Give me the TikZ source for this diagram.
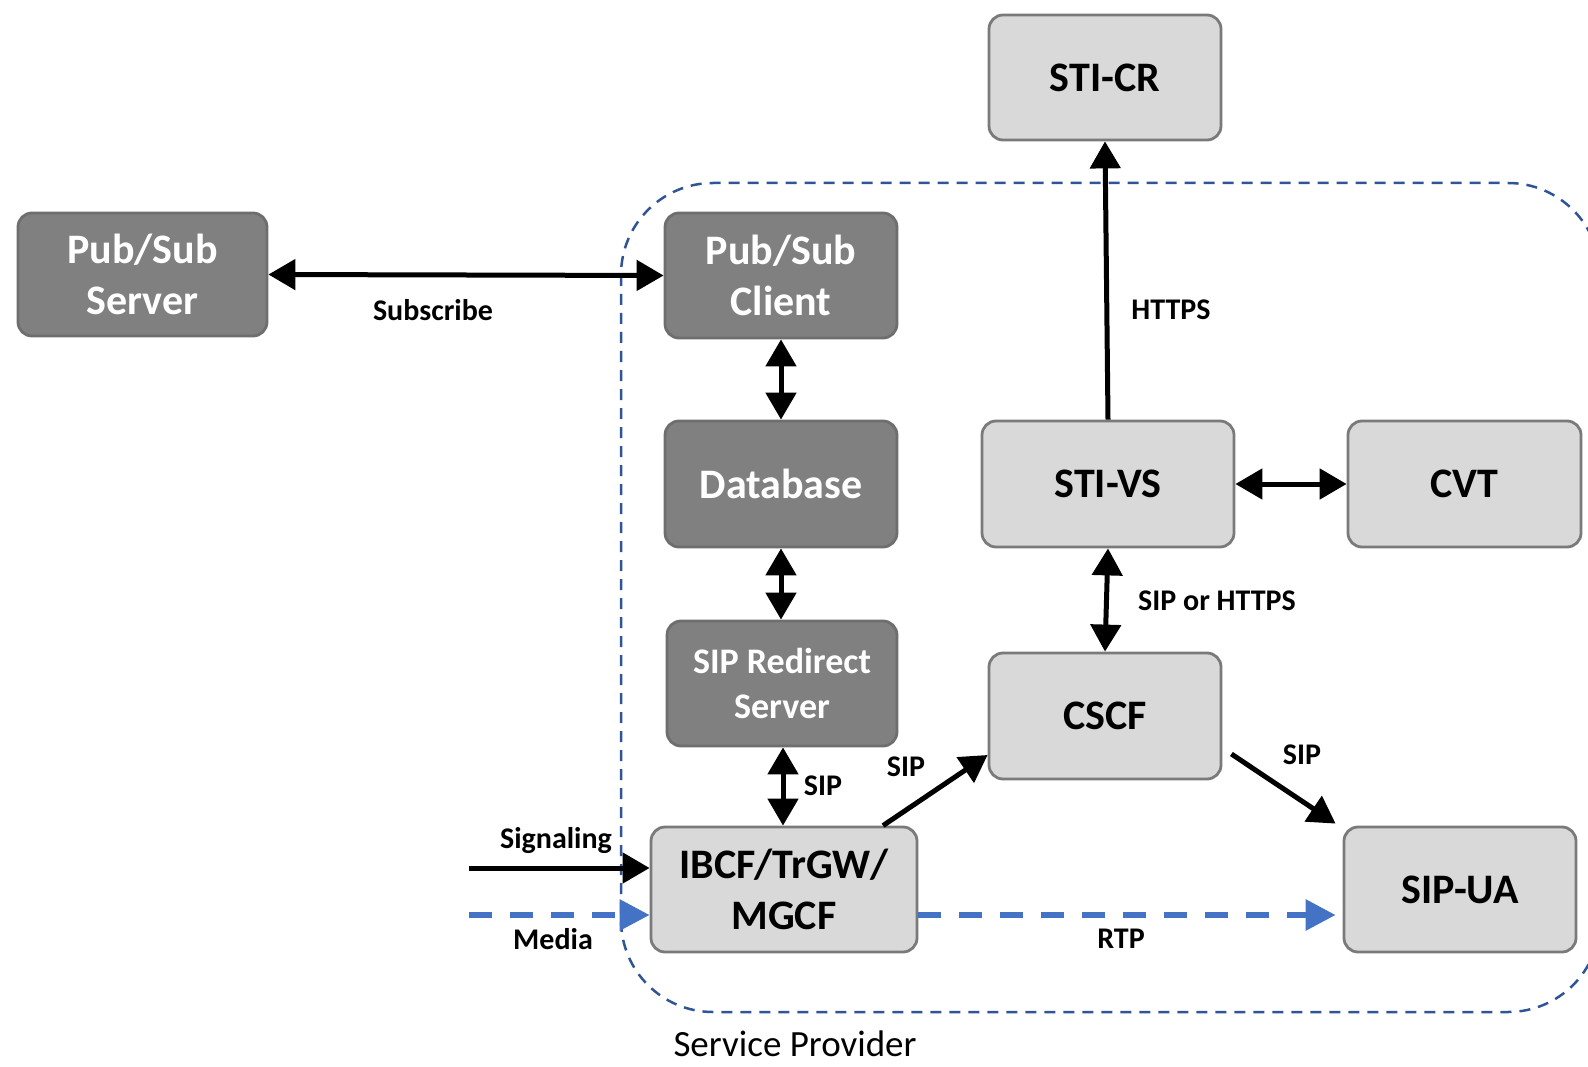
\documentclass[tikz,border=0pt]{standalone}
\usepackage{fontspec}
\setmainfont{Carlito}
\usetikzlibrary{arrows.meta,calc}

\definecolor{darkfill}{HTML}{808080}
\definecolor{darkline}{HTML}{6E6E6E}
\definecolor{lightfill}{HTML}{D9D9D9}
\definecolor{lightline}{HTML}{7A7A7A}
\definecolor{spblue}{HTML}{2F5597}
\definecolor{mediablue}{HTML}{4472C4}

\tikzset{
  box/.style={rounded corners=14pt, line width=2.8pt, align=center,
    inner sep=0pt, font=\bfseries\fontsize{42}{51}\selectfont},
  darkbox/.style={box, fill=darkfill, draw=darkline, text=white},
  lightbox/.style={box, fill=lightfill, draw=lightline, text=black},
  sig/.style={line width=5pt, draw=black,
    -{Triangle[length=27pt,width=30pt]}},
  sigboth/.style={line width=5pt, draw=black,
    {Triangle[length=27pt,width=30pt]}-{Triangle[length=27pt,width=30pt]}},
  media/.style={line width=6pt, draw=mediablue, dash pattern=on 23pt off 18pt,
    -{Triangle[length=30pt,width=30pt,fill=mediablue]}},
  lbl/.style={font=\bfseries\fontsize{30}{36}\selectfont, inner sep=0pt},
  border/.style={draw=spblue, line width=2.5pt, dash pattern=on 11pt off 8pt,
    rounded corners=92pt}
}

\begin{document}
\begin{tikzpicture}[x=1pt,y=-1pt]
\useasboundingbox (0,0) rectangle (1588,1067);

% service provider domain
\begin{scope}
  \clip (0,0) rectangle (1588,1067);
  \draw[border] (621,183) rectangle (1600,1012);
\end{scope}
\node[font=\fontsize{37}{44}\selectfont, inner sep=0pt] (sp) at (795,1044) {Service Provider};

% nodes
\node[darkbox, minimum width=249pt, minimum height=123pt] (pss) at (142.5,274.5) {Pub/Sub\\Server};
\node[darkbox, minimum width=232pt, minimum height=125pt] (psc) at (781,275.5) {Pub/Sub\\Client};
\node[darkbox, minimum width=232pt, minimum height=126pt] (db) at (781,484) {Database};
\node[darkbox, minimum width=230pt, minimum height=125pt,
  font=\bfseries\fontsize{36}{45}\selectfont] (sipr) at (782,683.5) {SIP Redirect\\Server};
\node[lightbox, minimum width=266pt, minimum height=125pt] (ibcf) at (784,889.5) {IBCF/TrGW/\\MGCF};
\node[lightbox, minimum width=232pt, minimum height=125pt] (sticr) at (1105,77.5) {STI-CR};
\node[lightbox, minimum width=252pt, minimum height=126pt] (stivs) at (1108,484) {STI-VS};
\node[lightbox, minimum width=233pt, minimum height=126pt] (cvt) at (1464.5,484) {CVT};
\node[lightbox, minimum width=232pt, minimum height=126pt] (cscf) at (1105,716) {CSCF};
\node[lightbox, minimum width=232pt, minimum height=125pt] (sipua) at (1460,889.5) {SIP-UA};

% free ends of the incoming lines
\coordinate (sigin) at (469,868);
\coordinate (medin) at (469,915);

% connectors
\draw[sigboth] (pss.east) -- (psc.west);
\draw[sigboth] (psc.south) -- (db.north);
\draw[sigboth] (db.south) -- (db.south |- sipr.north);
\draw[sigboth] (sipr.south -| 783,0) -- (ibcf.north -| 783,0);
\draw[sig] ([xshift=99pt]ibcf.north) -- ([yshift=-39pt]cscf.west);
\draw[sig] ([xshift=9pt,yshift=-38pt]cscf.east) -- ([xshift=-7pt,yshift=2pt]sipua.north west);
\draw[sig] (stivs.north) -- (sticr.south);
\draw[sigboth] (stivs.east) -- (cvt.west);
\draw[sigboth] (stivs.south) -- (cscf.north);
\draw[sig] (sigin) -- (sigin -| ibcf.west);
\draw[media] (medin) -- (medin -| ibcf.west);
\draw[media, shorten >=7pt] (ibcf.east |- medin) -- (sipua.west |- medin);

% labels
\node[lbl] (lsub) at (433,310) {Subscribe};
\node[lbl] (lsip1) at (823,786) {SIP};
\node[lbl] (lsip2) at (906,767) {SIP};
\node[lbl] (lsip3) at (1302,755) {SIP};
\node[lbl] (lhttps) at (1171,310) {HTTPS};
\node[lbl] (lsiph) at (1217,601) {SIP or HTTPS};
\node[lbl] (lsigl) at (556,841) {Signaling};
\node[lbl] (lmed) at (553,939) {Media};
\node[lbl] (lrtp) at (1121,939) {RTP};
\end{tikzpicture}
\end{document}
